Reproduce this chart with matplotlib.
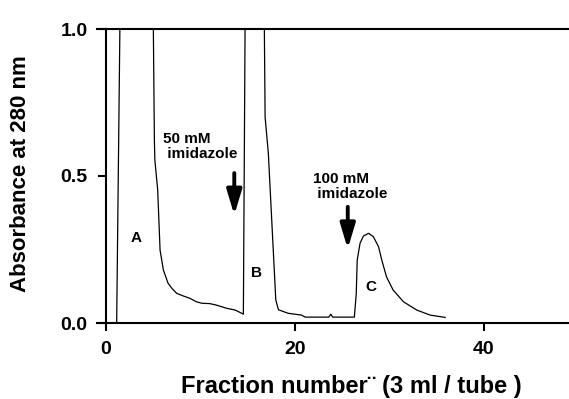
#!/usr/bin/env python3
"""Elution profile: absorbance at 280 nm vs fraction number."""

import matplotlib
matplotlib.use("Agg")
import matplotlib.pyplot as plt

plt.rcParams["font.family"] = ["Liberation Sans", "DejaVu Sans"]
plt.rcParams["font.weight"] = "bold"

# =============================================================================
# DATA (plateau values are clipped at 1.0)
# =============================================================================
FRACTION = [1.16, 1.5, 5.04, 5.15, 5.2, 5.5, 5.75, 6.1, 6.6, 7.0, 7.5, 8.2,
            8.9, 9.6, 10.2, 11.0, 11.7, 12.3, 12.8, 13.7, 14.2, 14.56,
            14.74, 16.78, 16.86, 17.2, 17.56, 17.99, 18.27, 19.3, 20.7,
            21.1, 23.6, 23.8, 24.0, 26.3, 26.5, 26.6, 26.9, 27.26, 27.8,
            28.3, 28.85, 29.2, 29.7, 30.4, 31.5, 32.9, 34.3, 35.9]
ABS_280 = [0.0, 1.0, 1.0, 0.62, 0.554, 0.452, 0.248, 0.18, 0.135, 0.118,
           0.101, 0.092, 0.084, 0.072, 0.067, 0.066, 0.061, 0.055, 0.05,
           0.044, 0.036, 0.03,
           1.0, 1.0, 0.70, 0.578, 0.35, 0.078, 0.045, 0.033, 0.027,
           0.02, 0.02, 0.03, 0.02, 0.02, 0.10, 0.214, 0.271, 0.296, 0.305,
           0.294, 0.26, 0.214, 0.157, 0.112, 0.072, 0.044, 0.027, 0.019]

X_TICKS = [0, 20, 40]
Y_TICKS = [0.0, 0.5, 1.0]
Y_TICK_LABELS = ["0.0", "0.5", "1.0"]

PEAK_LABELS = [("A", 3.2, 0.29), ("B", 15.9, 0.17), ("C", 28.0, 0.122)]

# (text, text x, text y, arrow x, arrow top, arrow tip)
STEPS = [
    ("50 mM\n imidazole", 6.1, 0.60, 13.6, 0.51, 0.367),
    ("100 mM\n imidazole", 21.9, 0.465, 25.6, 0.395, 0.252),
]


def main():
    fig = plt.figure(figsize=(5.69, 3.99), dpi=100)
    ax = fig.add_axes([97 / 569, 76 / 399, 472 / 569, 294 / 399])

    ax.plot(FRACTION, ABS_280, color="black", lw=0.9)

    ax.set_xlim(-0.92, 49.0)
    ax.set_ylim(0, 1.0)
    ax.spines["left"].set_position(("data", 0))
    ax.spines["right"].set_visible(False)
    for side in ["left", "bottom", "top"]:
        ax.spines[side].set_linewidth(1.5)

    ax.set_xticks(X_TICKS)
    ax.set_yticks(Y_TICKS)
    ax.set_yticklabels(Y_TICK_LABELS)
    ax.tick_params(direction="out", length=6, width=1.5, pad=7,
                   labelsize=14)

    for txt, x, y in PEAK_LABELS:
        ax.text(x, y, txt, ha="center", va="center", fontsize=11,
                fontweight="bold")

    for txt, tx, ty, ax_x, top, tip in STEPS:
        ax.text(tx, ty, txt, ha="left", va="center", fontsize=11,
                fontweight="bold", linespacing=1.05)
        ax.annotate("", xy=(ax_x, tip), xytext=(ax_x, top),
                    arrowprops=dict(arrowstyle="-|>,head_length=1.5,head_width=0.45",
                                    mutation_scale=10, lw=2.8, color="black",
                                    shrinkA=0, shrinkB=0))

    fig.text(351 / 569, 1 - 387 / 399, "Fraction number\u00a8 (3 ml / tube )",
             ha="center", va="center", fontsize=17, fontweight="bold")
    fig.text(21 / 569, 1 - 174 / 399, "Absorbance at 280 nm",
             ha="center", va="center", rotation=90, fontsize=16,
             fontweight="bold")

    fig.savefig("out.png", dpi=100)
    plt.close(fig)


if __name__ == "__main__":
    main()
